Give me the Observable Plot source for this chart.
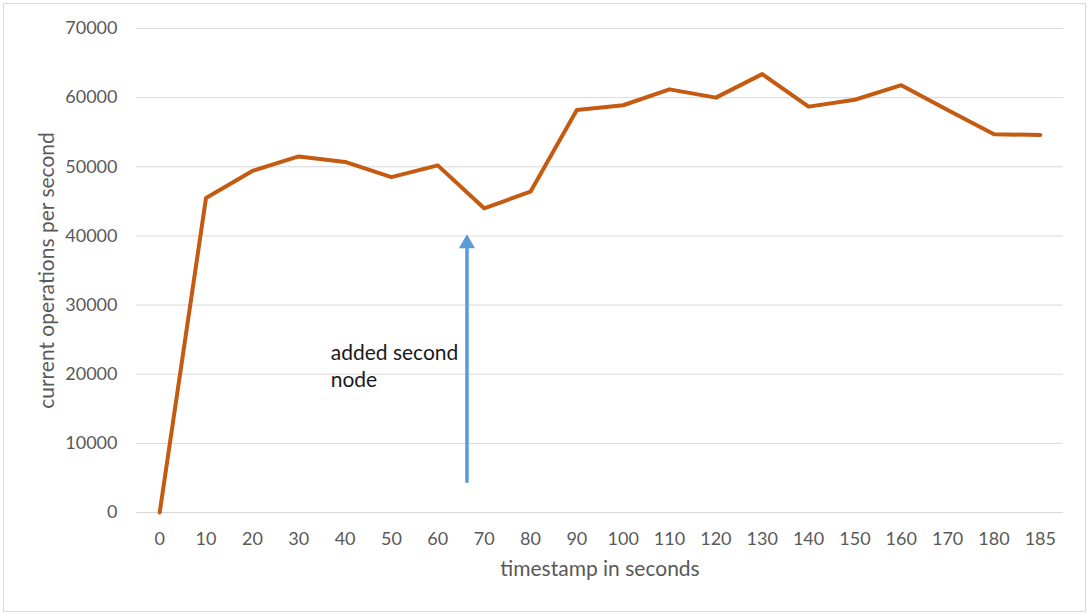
<!DOCTYPE html>
<html>
<head>
<meta charset="utf-8">
<script src="https://cdn.jsdelivr.net/npm/d3@7"></script>
<script src="https://cdn.jsdelivr.net/npm/@observablehq/plot@0.6"></script>
<style>
  html, body { margin: 0; padding: 0; background: #fff; }
  #wrap { position: relative; width: 1089px; height: 613px; }
  #border { position: absolute; left: 3px; top: 3px; width: 1083px; height: 609px; box-sizing: border-box; border: 1px solid #d9d9d9; pointer-events: none; }
</style>
</head>
<body>
<div id="wrap"><div id="border"></div></div>
<script>
// Data
const xLabels = ["0","10","20","30","40","50","60","70","80","90","100","110","120","130","140","150","160","170","180","185"];
const opsPerSecond = [0,45500,49400,51500,50700,48500,50200,44000,46400,58200,58900,61200,60000,63400,58700,59700,61800,58200,54700,54600];
const yTicks = [0,10000,20000,30000,40000,50000,60000,70000];
const yTitle = "current operations per second";
const xTitle = "timestamp in seconds";
// annotation (x in category-index units, y in operations per second)
const arrowX = [6.63];
const arrowFrom = [4300];
const arrowTo = [39600];
const noteText = ["added second\nnode"];
const noteX = [3.69];
const noteY = [24900];

const series = opsPerSecond.map((v, i) => ({i, v}));
const arrow = arrowX.map((x, k) => ({x, y1: arrowFrom[k], y2: arrowTo[k]}));
const note = noteText.map((t, k) => ({t, x: noteX[k], y: noteY[k]}));

const chart = Plot.plot({
  width: 1089,
  height: 613,
  marginLeft: 136,
  marginRight: 26,
  marginTop: 28,
  marginBottom: 101,
  style: {fontFamily: "Lato, sans-serif", fontSize: "18px", color: "#595959", background: "transparent"},
  x: {domain: [-0.5, xLabels.length - 0.5], axis: null},
  y: {domain: [0, 70000], axis: null},
  marks: [
    Plot.ruleY(yTicks, {stroke: "#d9d9d9", strokeWidth: 1}),
    Plot.axisY(yTicks, {tickSize: 0, tickPadding: 19, tickFormat: d => String(d), label: null, fill: "#595959"}),
    Plot.axisX(d3.range(xLabels.length), {tickSize: 0, tickPadding: 20, tickFormat: i => xLabels[i], label: null, fill: "#595959"}),
    Plot.text([yTitle], {frameAnchor: "left", textAnchor: "middle", dx: -89, rotate: -90, fill: "#595959", fontSize: 21}),
    Plot.text([xTitle], {frameAnchor: "bottom", textAnchor: "middle", dy: 63, fill: "#595959", fontSize: 21}),
    Plot.line(series, {x: "i", y: "v", stroke: "#C55A11", strokeWidth: 4, strokeLinejoin: "round", strokeLinecap: "round"}),
    Plot.link(arrow, {x1: "x", x2: "x", y1: "y1", y2: "y2", stroke: "#5B9BD5", strokeWidth: 3.5}),
    Plot.dot(arrow, {x: "x", y: "y2", symbol: "triangle", r: 6, fill: "#5B9BD5", stroke: "none", dy: 5}),
    Plot.text(note, {x: "x", y: "y", text: "t", textAnchor: "start", lineAnchor: "top", lineHeight: 1.3, fill: "#1a1a1a", fontSize: 21})
  ]
});
document.getElementById("wrap").prepend(chart);
</script>
</body>
</html>
